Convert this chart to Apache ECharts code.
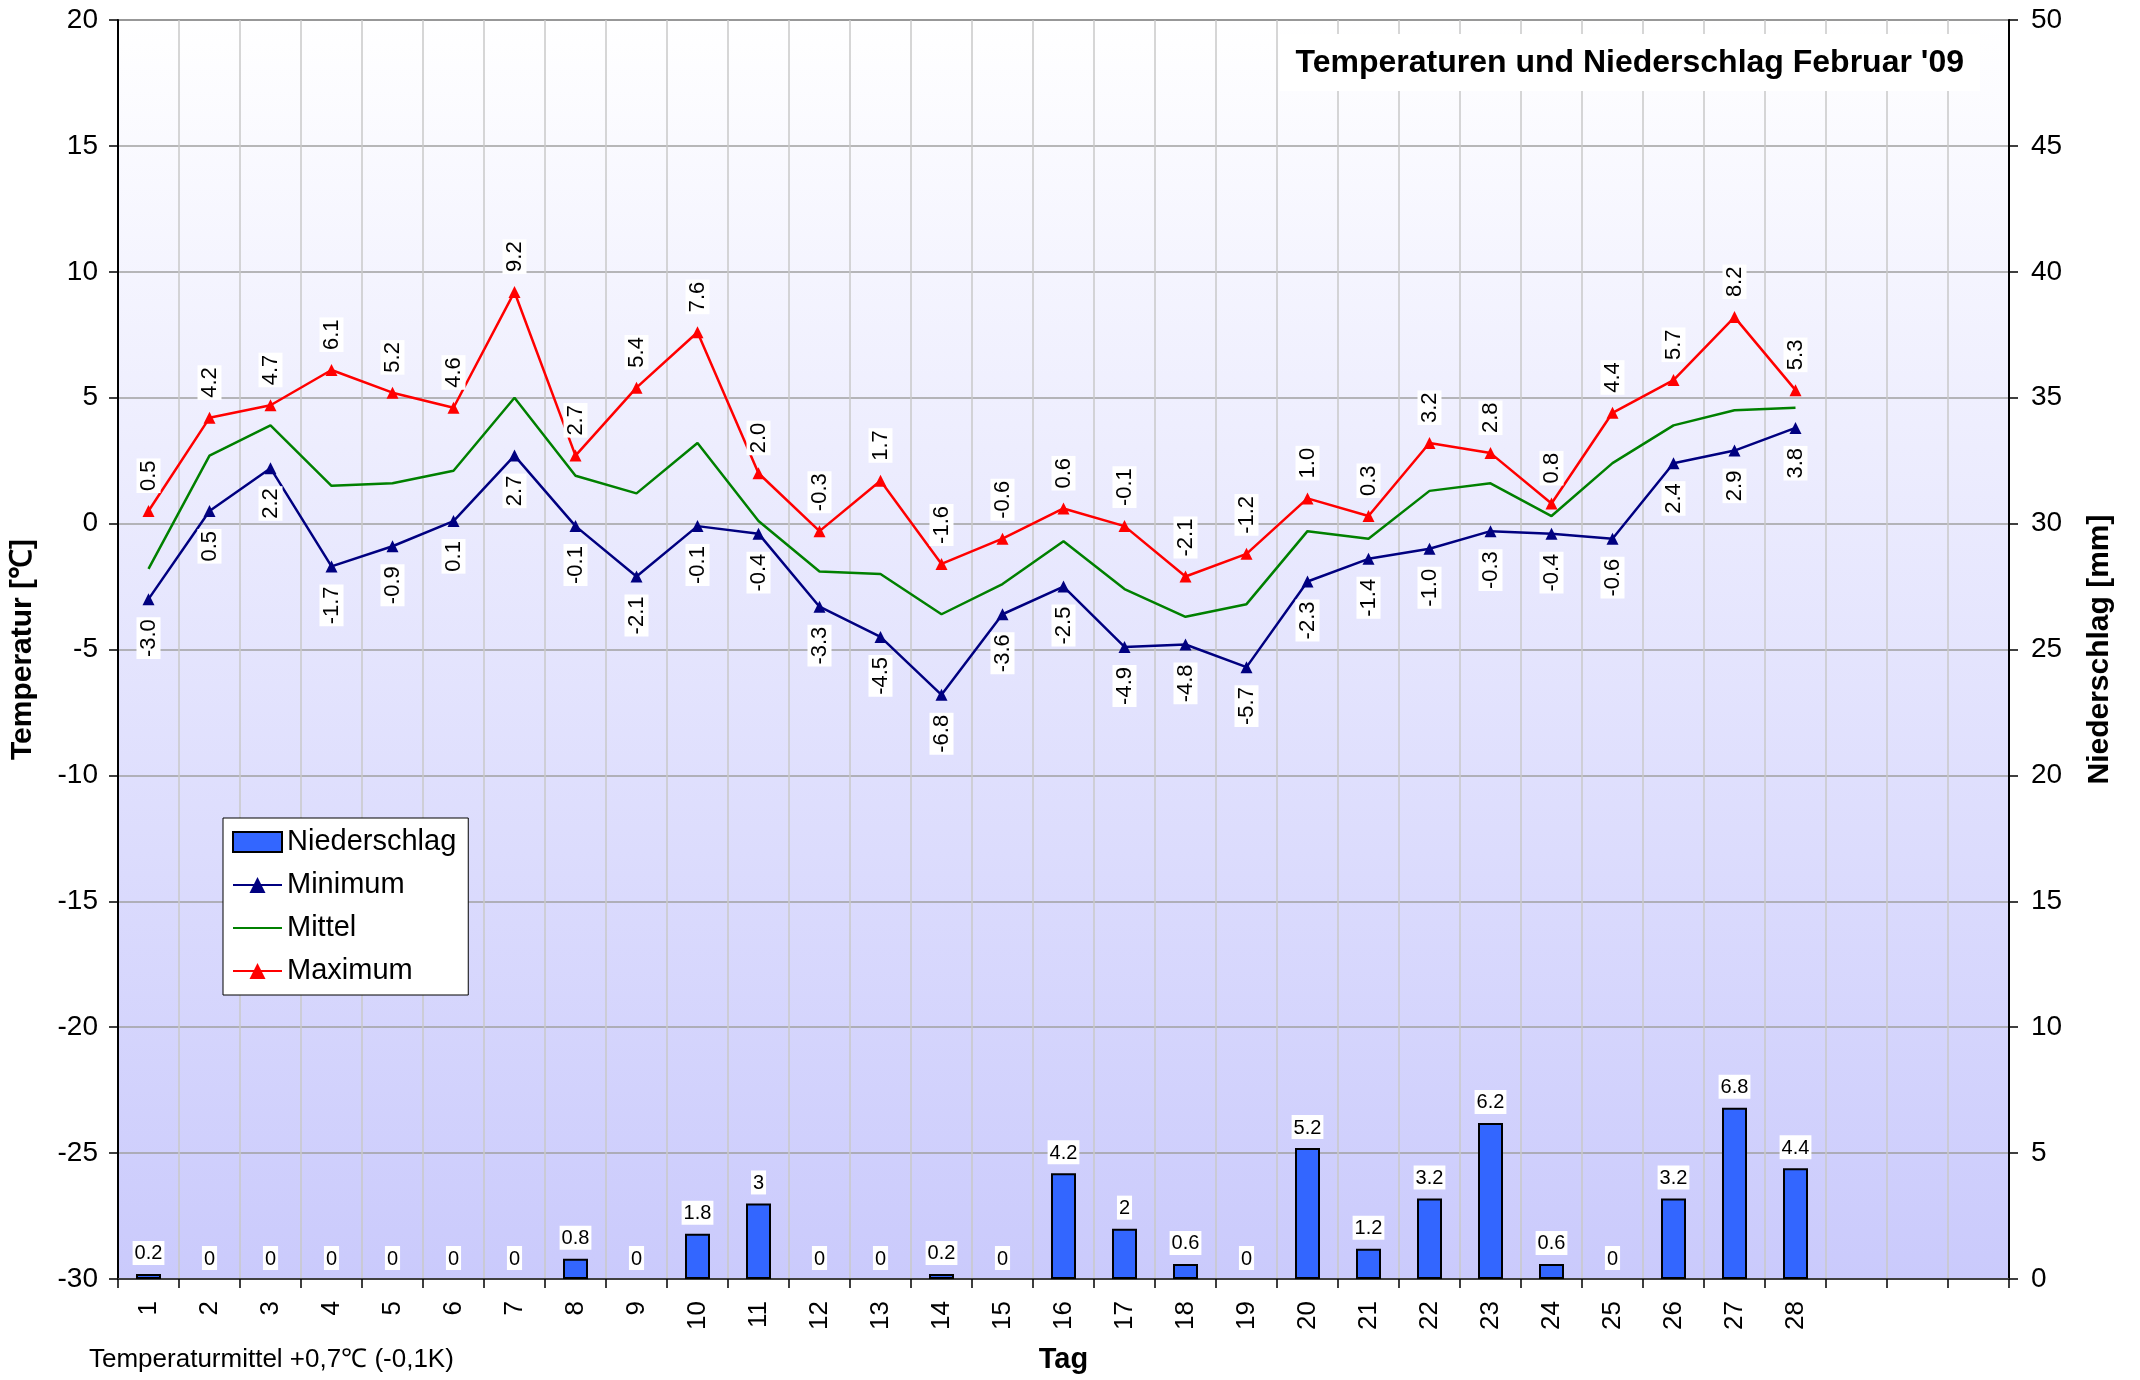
<!DOCTYPE html>
<html>
<head>
<meta charset="utf-8">
<title>Temperaturen und Niederschlag Februar '09</title>
<script src="https://cdn.jsdelivr.net/npm/echarts@6/dist/echarts.min.js"></script>
<style>
  html, body { margin: 0; padding: 0; background: #fff; }
  #chart { width: 2140px; height: 1380px; }
</style>
</head>
<body>
<div id="chart"></div>
<script>
// Tage 1..28, dazu drei leere Plätze wie im Original (Achse bis 31)
const days = ['1','2','3','4','5','6','7','8','9','10','11','12','13','14','15','16','17','18','19','20','21','22','23','24','25','26','27','28','','',''];

const niederschlag = [0.2, 0, 0, 0, 0, 0, 0, 0.8, 0, 1.8, 3, 0, 0, 0.2, 0, 4.2, 2, 0.6, 0, 5.2, 1.2, 3.2, 6.2, 0.6, 0, 3.2, 6.8, 4.4];
const minimum = [-3.0, 0.5, 2.2, -1.7, -0.9, 0.1, 2.7, -0.1, -2.1, -0.1, -0.4, -3.3, -4.5, -6.8, -3.6, -2.5, -4.9, -4.8, -5.7, -2.3, -1.4, -1.0, -0.3, -0.4, -0.6, 2.4, 2.9, 3.8];
const mittel = [-1.8, 2.7, 3.9, 1.5, 1.6, 2.1, 5.0, 1.9, 1.2, 3.2, 0.1, -1.9, -2.0, -3.6, -2.4, -0.7, -2.6, -3.7, -3.2, -0.3, -0.6, 1.3, 1.6, 0.3, 2.4, 3.9, 4.5, 4.6];
const maximum = [0.5, 4.2, 4.7, 6.1, 5.2, 4.6, 9.2, 2.7, 5.4, 7.6, 2.0, -0.3, 1.7, -1.6, -0.6, 0.6, -0.1, -2.1, -1.2, 1.0, 0.3, 3.2, 2.8, 0.8, 4.4, 5.7, 8.2, 5.3];

const FONT = 'Liberation Sans, Arial, sans-serif';

// gedrehte Werte-Labels mit weißem Kasten
const tempLabel = (pos) => ({
  show: true,
  position: pos,
  distance: 12,
  rotate: 90,
  align: pos === 'top' ? 'left' : 'right',
  verticalAlign: 'middle',
  fontFamily: FONT,
  fontSize: 22,
  color: '#000',
  backgroundColor: '#fff',
  padding: [2, 2, 0, 2],
  formatter: p => p.value.toFixed(1)
});

// Nullwerte ohne Rahmen, sonst bleibt ein Strich am Boden
const barData = niederschlag.map(v => (v === 0 ? { value: v, itemStyle: { borderWidth: 0 } } : v));

const chart = echarts.init(document.getElementById('chart'));
chart.setOption({
  animation: false,
  textStyle: { fontFamily: FONT },
  title: {
    text: "Temperaturen und Niederschlag Februar '09",
    right: 160,
    top: 34,
    backgroundColor: '#fff',
    padding: [13, 16, 12, 16],
    textStyle: { fontFamily: FONT, fontSize: 32, fontWeight: 'bold', color: '#000' }
  },
  legend: {
    orient: 'vertical',
    left: 223,
    top: 818,
    backgroundColor: '#fff',
    borderColor: '#000',
    borderWidth: 1,
    padding: [9, 12, 9, 9],
    itemWidth: 49,
    itemHeight: 20,
    itemGap: 13,
    textStyle: { fontFamily: FONT, fontSize: 29, lineHeight: 30, color: '#000' },
    data: [
      { name: 'Niederschlag', icon: 'rect' },
      'Minimum',
      { name: 'Mittel', itemStyle: { opacity: 0 } },
      'Maximum'
    ]
  },
  grid: {
    left: 117,
    right: 131,
    top: 20,
    bottom: 101,
    show: true,
    borderColor: '#808080',
    borderWidth: 2,
    backgroundColor: {
      type: 'linear', x: 0, y: 0, x2: 0, y2: 1,
      colorStops: [
        { offset: 0, color: '#ffffff' },
        { offset: 1, color: '#cacafc' }
      ]
    }
  },
  xAxis: {
    type: 'category',
    data: days,
    boundaryGap: true,
    name: 'Tag',
    nameLocation: 'middle',
    nameGap: 66,
    nameTextStyle: { fontFamily: FONT, fontSize: 29, fontWeight: 'bold', color: '#000' },
    axisLine: { onZero: false, lineStyle: { color: '#404040', width: 2 } },
    axisTick: { show: true, interval: 0, length: 9, lineStyle: { color: '#000', width: 1.5 } },
    axisLabel: { interval: 0, rotate: 90, margin: 22, fontFamily: FONT, fontSize: 26, color: '#000' },
    splitLine: { show: true, interval: 0, lineStyle: { color: '#c8c8c8', width: 1.5 } }
  },
  yAxis: [
    {
      type: 'value',
      min: -30,
      max: 20,
      interval: 5,
      name: 'Temperatur [℃]',
      nameLocation: 'middle',
      nameRotate: 90,
      nameGap: 80,
      nameTextStyle: { fontFamily: FONT, fontSize: 30, fontWeight: 'bold', color: '#000' },
      axisLine: { show: true, lineStyle: { color: '#000', width: 2 } },
      axisTick: { show: true, length: 9, lineStyle: { color: '#000', width: 1.5 } },
      axisLabel: { margin: 20, fontFamily: FONT, fontSize: 28, color: '#000' },
      splitLine: { show: true, lineStyle: { color: '#a0a0a0', width: 1.5 } }
    },
    {
      type: 'value',
      min: 0,
      max: 50,
      interval: 5,
      position: 'right',
      name: 'Niederschlag [mm]',
      nameLocation: 'middle',
      nameRotate: 90,
      nameGap: 76,
      nameTextStyle: { fontFamily: FONT, fontSize: 30, fontWeight: 'bold', color: '#000' },
      axisLine: { show: true, lineStyle: { color: '#000', width: 2 } },
      axisTick: { show: true, length: 9, lineStyle: { color: '#000', width: 1.5 } },
      axisLabel: { margin: 22, fontFamily: FONT, fontSize: 28, color: '#000' },
      splitLine: { show: false }
    }
  ],
  series: [
    {
      name: 'Niederschlag',
      type: 'bar',
      yAxisIndex: 1,
      data: barData,
      barWidth: 25,
      itemStyle: { color: '#3366ff', borderColor: '#000', borderWidth: 2 },
      label: {
        show: true,
        position: 'top',
        distance: 9,
        fontFamily: FONT,
        fontSize: 20,
        color: '#000',
        backgroundColor: '#fff',
        padding: [3, 2, 1, 2]
      },
      z: 2
    },
    {
      name: 'Minimum',
      type: 'line',
      data: minimum,
      symbol: 'triangle',
      symbolSize: 12,
      lineStyle: { color: '#000080', width: 2.5 },
      itemStyle: { color: '#000080' },
      label: tempLabel('bottom'),
      z: 4
    },
    {
      name: 'Mittel',
      type: 'line',
      data: mittel,
      symbol: 'none',
      lineStyle: { color: '#008000', width: 2.5 },
      itemStyle: { color: '#008000' },
      z: 3
    },
    {
      name: 'Maximum',
      type: 'line',
      data: maximum,
      symbol: 'triangle',
      symbolSize: 12,
      lineStyle: { color: '#ff0000', width: 2.5 },
      itemStyle: { color: '#ff0000' },
      label: tempLabel('top'),
      z: 5
    }
  ],
  graphic: [
    {
      type: 'text',
      left: 89,
      top: 1347,
      style: { text: 'Temperaturmittel +0,7℃ (-0,1K)', font: '26px ' + FONT, fill: '#000' }
    }
  ]
});
</script>
</body>
</html>
